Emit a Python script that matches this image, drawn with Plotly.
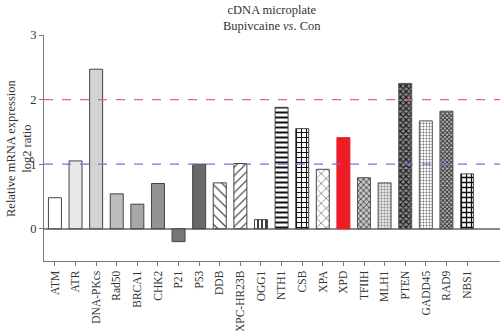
import plotly.graph_objects as go

# Genes on the cDNA microplate and their log2 expression ratios
genes = ["ATM", "ATR", "DNA-PKcs", "Rad50", "BRCA1", "CHK2", "P21", "P53", "DDB",
         "XPC-HR23B", "OGG1", "NTH1", "CSB", "XPA", "XPD", "TFIIH", "MLH1", "PTEN",
         "GADD45", "RAD9", "NBS1"]
log2_ratio = [0.48, 1.05, 2.47, 0.54, 0.38, 0.70, -0.20, 1.00, 0.71,
              1.01, 0.14, 1.88, 1.55, 0.92, 1.41, 0.79, 0.71, 2.25,
              1.67, 1.82, 0.85]

# Fill style per gene: base colour, pattern shape, pattern colour, size, solidity
fill_colors = ["#ffffff", "#e8e8e8", "#d3d3d3", "#bdbdbd", "#a7a7a7", "#939393",
               "#767676", "#696969", "#ffffff", "#ffffff", "#ffffff", "#ffffff",
               "#ffffff", "#ffffff", "#ee1d25", "#c4c4c4", "#e8e8e8", "#8a8a8a",
               "#ffffff", "#b8b8b8", "#ffffff"]
pattern_shapes = ["", "", "", "", "", "", "", "", "\\", "/", "|", "-", "+", "x", "",
                  "x", ".", "x", ".", "x", "+"]
pattern_colors = ["#000000"] * 8 + ["#222222", "#333333", "#111111", "#111111",
                                    "#111111", "#444444", "#000000", "#4a4a4a",
                                    "#8a8a8a", "#1a1a1a", "#6a6a6a", "#2a2a2a",
                                    "#111111"]
pattern_sizes = [8] * 8 + [7, 6, 4, 5, 5, 7, 8, 4, 3, 4, 3, 3, 5]
pattern_solidity = [0.3] * 8 + [0.15, 0.18, 0.4, 0.4, 0.4, 0.15, 0.3, 0.4,
                                0.4, 0.5, 0.3, 0.5, 0.45]
edge_colors = ["#444444"] * 14 + ["#ee1d25"] + ["#555555"] * 6

serif = "Liberation Serif, Times New Roman, serif"
text_color = "#333333"

fig = go.Figure()
for i, gene in enumerate(genes):
    pattern = None
    if pattern_shapes[i]:
        pattern = dict(
            shape=pattern_shapes[i],
            fgcolor=pattern_colors[i],
            bgcolor=fill_colors[i],
            size=pattern_sizes[i],
            solidity=pattern_solidity[i],
            fillmode="replace",
        )
    fig.add_trace(
        go.Bar(
            x=[gene],
            y=[log2_ratio[i]],
            width=0.63,
            marker=dict(
                color=fill_colors[i],
                line=dict(color=edge_colors[i], width=1),
                pattern=pattern,
            ),
            showlegend=False,
        )
    )

# Reference lines at log2 ratio 1 and 2
fig.add_hline(y=2, line=dict(color="#f06262", width=1.2, dash="dash"))
fig.add_hline(y=1, line=dict(color="#5f7de6", width=1.2, dash="dash"))

# Two-line chart heading centred over the plot area
fig.add_annotation(
    text="cDNA microplate<br>Bupivcaine <i>vs</i>. Con",
    xref="paper", yref="paper", x=0.5, y=1.0, yshift=34,
    xanchor="center", yanchor="top", showarrow=False, align="center",
    font=dict(family=serif, size=12.5, color=text_color),
)

# Rotated y-axis caption
fig.add_annotation(
    text="Relative mRNA expression<br>log2 ratio",
    xref="paper", yref="paper", x=0, y=0.5, xshift=-25,
    xanchor="center", yanchor="middle", showarrow=False, align="center",
    textangle=-90,
    font=dict(family=serif, size=12.5, color=text_color),
)

fig.update_layout(
    width=500,
    height=331,
    margin=dict(l=44, r=0, t=35, b=70),
    paper_bgcolor="white",
    plot_bgcolor="white",
    barmode="overlay",
    font=dict(family=serif, size=12.5, color=text_color),
    xaxis=dict(
        type="category",
        categoryorder="array",
        categoryarray=genes,
        range=[-0.53, 21.6],
        automargin=False,
        showline=True,
        linecolor="#7a7a7a",
        linewidth=1.2,
        ticks="outside",
        ticklen=4,
        tickcolor="#7a7a7a",
        tickangle=-90,
        tickfont=dict(family=serif, size=11.5, color=text_color),
        showgrid=False,
    ),
    yaxis=dict(
        range=[-0.5, 3],
        tickvals=[0, 1, 2, 3],
        automargin=False,
        showline=True,
        linecolor="#7a7a7a",
        linewidth=1.2,
        ticks="outside",
        ticklen=4,
        tickcolor="#7a7a7a",
        showgrid=False,
        zeroline=True,
        zerolinecolor="#8a8a8a",
        zerolinewidth=1.5,
        tickfont=dict(family=serif, size=12.5, color=text_color),
    ),
)

fig.write_html("out.html")
